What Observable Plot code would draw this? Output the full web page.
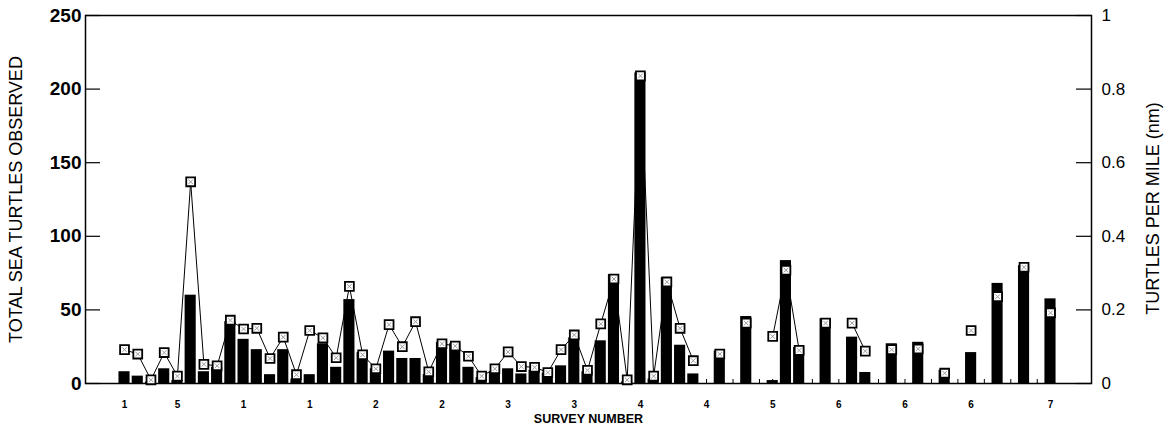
<!DOCTYPE html>
<html>
<head>
<meta charset="utf-8">
<script src="https://cdn.jsdelivr.net/npm/d3@7"></script>
<script src="https://cdn.jsdelivr.net/npm/@observablehq/plot@0.6"></script>
<style>
  html, body { margin: 0; padding: 0; background: #fff; }
  #chart { position: relative; width: 1176px; height: 430px; font-family: "Liberation Sans", Arial, sans-serif; }
  #chart svg { position: absolute; left: 0; top: 0; }
  svg.counts g[aria-label^="y-axis"] text { font: bold 19px "Liberation Sans", Arial, sans-serif; }
  svg.counts g[aria-label^="x-axis"] text { font: bold 10px "Liberation Sans", Arial, sans-serif; }
  svg.rates g[aria-label^="y-axis"] text { font: 17px "Liberation Sans", Arial, sans-serif; }
</style>
</head>
<body>
<div id="chart"></div>
<script>
// Total sea turtles observed per aerial survey flight (bars, left axis)
// and turtles per nautical mile flown (squares, right axis).
// null = no flight flown in that slot.
const totals = [
  8, 5, 1, 10, 2, 60, 8, 11, 42, 30,
  23, 6, 23, 3, 6, 27, 11, 57, 21, 10,
  22, 17, 17, 6, 28, 27, 11, 4, 8, 10,
  6.5, 9, 7, 12, 31, 8, 29, 74, 1, 211,
  3, 72, 26, 6.5, null, 22, null, 45.5, null, 2,
  83.5, 24.5, null, 44, null, 31.5, 7.5, null, 27, null,
  28, null, 9, null, 21, null, 68, null, 80, null, 57.5
];
const perMile = [
  0.092, 0.080, 0.010, 0.084, 0.020, 0.548, 0.052, 0.048, 0.172, 0.148,
  0.150, 0.068, 0.126, 0.024, 0.144, 0.124, 0.070, 0.264, 0.078, 0.040,
  0.160, 0.100, 0.168, 0.032, 0.108, 0.102, 0.074, 0.020, 0.040, 0.086,
  0.046, 0.044, 0.030, 0.092, 0.132, 0.036, 0.162, 0.284, 0.010, 0.836,
  0.020, 0.276, 0.150, 0.062, null, 0.080, null, 0.164, null, 0.128,
  0.308, 0.090, null, 0.164, null, 0.164, 0.088, null, 0.092, null,
  0.094, null, 0.028, null, 0.144, null, 0.236, null, 0.316, null, 0.192
];
// Survey-number labels printed under selected flights
const labelAt = [0, 4, 9, 14, 19, 24, 29, 34, 39, 44, 49, 54, 59, 64, 70];
const surveyLabels = ["1", "5", "1", "1", "2", "2", "3", "3", "4", "4", "5", "6", "6", "6", "7"];
const leftTicks = [0, 50, 100, 150, 200, 250];
const rightTicks = [0, 0.2, 0.4, 0.6, 0.8, 1];

const flights = d3.range(totals.length);
const rows = flights.map(i => ({
  i,
  total: totals[i] ?? NaN,
  perMile: perMile[i] ?? NaN
}));

const W = 1176, H = 430;
const M = {top: 15, right: 85, bottom: 47, left: 85};
const frameW = W - M.left - M.right;
const frameH = H - M.top - M.bottom;
const xDomain = [-2.95, 73.1];
const halfBar = 0.42;
const ink = "#000";

const counts = Plot.plot({
  width: W, height: H,
  marginTop: M.top, marginRight: M.right, marginBottom: M.bottom, marginLeft: M.left,
  className: "counts",
  style: {background: "white", color: ink, fontFamily: "Liberation Sans, Arial, sans-serif"},
  x: {
    type: "linear", domain: xDomain, label: null,
    ticks: labelAt,
    tickFormat: d => surveyLabels[labelAt.indexOf(d)],
    tickSize: 0, tickPadding: 17
  },
  y: {
    domain: [0, 250], label: null,
    ticks: leftTicks, tickSize: 0, tickPadding: 4
  },
  marks: [
    Plot.ruleY(leftTicks, {y: d => d, insetRight: frameW - 15, stroke: ink, strokeWidth: 1.2}),
    Plot.ruleX(flights, {x: d => d, insetTop: frameH - 4, stroke: ink, strokeWidth: 1}),
    Plot.rectY(rows, {x1: d => d.i - halfBar, x2: d => d.i + halfBar, y: "total", fill: ink}),
    Plot.frame({stroke: ink, strokeWidth: 1.5}),
    Plot.text(["TOTAL SEA TURTLES OBSERVED"], {
      text: d => d, frameAnchor: "left", textAnchor: "middle", rotate: -90, dx: -69,
      fontSize: 18, fill: ink
    }),
    Plot.text(["SURVEY NUMBER"], {
      text: d => d, frameAnchor: "bottom", textAnchor: "middle", dy: 39,
      fontSize: 12.5, fontWeight: "bold", fill: ink
    })
  ]
});

const rates = Plot.plot({
  width: W, height: H,
  marginTop: M.top, marginRight: M.right, marginBottom: M.bottom, marginLeft: M.left,
  className: "rates",
  style: {background: "transparent", color: ink, fontFamily: "Liberation Sans, Arial, sans-serif"},
  x: {type: "linear", domain: xDomain, axis: null},
  y: {
    domain: [0, 1], axis: "right", label: null,
    ticks: rightTicks, tickFormat: d => String(d), tickSize: 0, tickPadding: 10
  },
  marks: [
    Plot.ruleY(rightTicks, {y: d => d, insetLeft: frameW - 15, stroke: ink, strokeWidth: 1.2}),
    Plot.line(rows, {x: "i", y: "perMile", stroke: ink, strokeWidth: 1}),
    Plot.dot(rows, {x: "i", y: "perMile", symbol: "square", r: 5, fill: "white", stroke: ink, strokeWidth: 1.8}),
    Plot.dot(rows, {x: "i", y: "perMile", symbol: "times", r: 2.2, stroke: "#999", strokeWidth: 1}),
    Plot.text(["TURTLES PER MILE (nm)"], {
      text: d => d, frameAnchor: "right", textAnchor: "middle", rotate: -90, dx: 62, dy: 9,
      fontSize: 18, fill: ink
    })
  ]
});

const host = document.getElementById("chart");
host.appendChild(counts);
host.appendChild(rates);
</script>
</body>
</html>
